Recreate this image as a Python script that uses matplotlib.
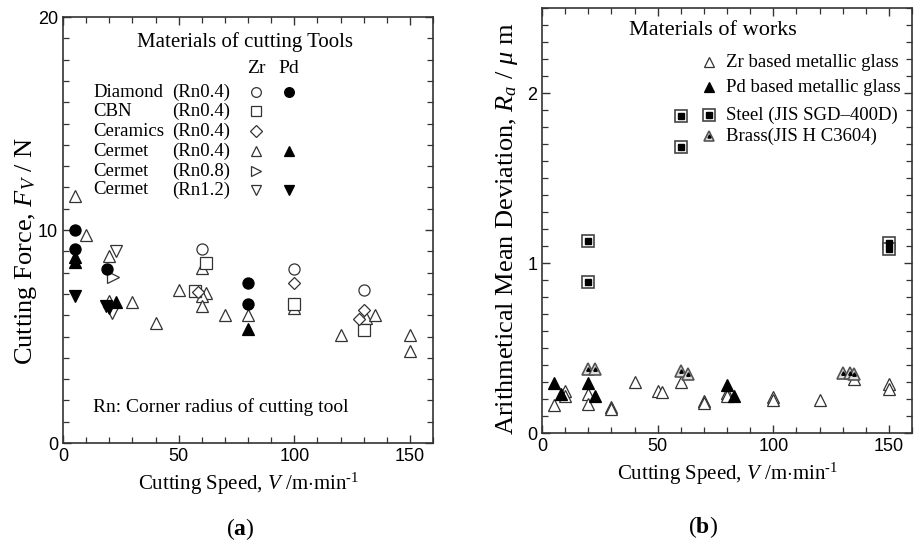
import matplotlib
matplotlib.use("Agg")
import matplotlib.pyplot as plt
from matplotlib.ticker import MultipleLocator

plt.rcParams['font.family'] = ['Liberation Serif', 'DejaVu Serif']
plt.rcParams['mathtext.fontset'] = 'custom'
plt.rcParams['mathtext.rm'] = 'Liberation Serif'
plt.rcParams['mathtext.it'] = 'Liberation Serif:italic'
plt.rcParams['mathtext.bf'] = 'Liberation Serif:bold'

# ---- (a) cutting force, Zr = open marker, Pd = filled marker
diamond_zr_v = [60, 100, 130]
diamond_zr_f = [9.1, 8.15, 7.2]
diamond_pd_v = [5, 5, 19, 80, 80]
diamond_pd_f = [10.0, 9.1, 8.15, 7.5, 6.55]
cbn_zr_v = [57, 62, 100, 130]
cbn_zr_f = [7.15, 8.45, 6.55, 5.3]
ceramics_zr_v = [58.5, 100, 130, 128]
ceramics_zr_f = [7.1, 7.5, 6.25, 5.8]
cermet04_zr_v = [5, 10, 20, 20, 30, 40, 50, 60, 62, 60, 60, 70, 80, 100, 120, 131, 135, 150, 150]
cermet04_zr_f = [11.6, 9.75, 8.8, 6.65, 6.6, 5.65, 7.2, 8.2, 7.05, 6.9, 6.45, 6.0, 6.0, 6.35, 5.05, 5.85, 6.0, 5.05, 4.3]
cermet04_pd_v = [5, 5, 23, 80]
cermet04_pd_f = [8.75, 8.5, 6.6, 5.35]
cermet08_zr_v = [21.5]
cermet08_zr_f = [7.8]
cermet12_zr_v = [23, 21]
cermet12_zr_f = [9.0, 6.1]
cermet12_pd_v = [5, 18.5, 20]
cermet12_pd_f = [6.9, 6.45, 6.35]

tool_names = ["Diamond", "CBN", "Ceramics", "Cermet", "Cermet", "Cermet"]
tool_radius = ["(Rn0.4)", "(Rn0.4)", "(Rn0.4)", "(Rn0.4)", "(Rn0.8)", "(Rn1.2)"]

# ---- (b) surface roughness
zr_v = [5, 10, 10, 20, 20, 30, 30, 40, 50, 52, 60, 70, 70, 80, 80, 100, 100, 120, 135, 150, 150]
zr_ra = [0.165, 0.245, 0.215, 0.232, 0.168, 0.155, 0.14, 0.30, 0.248, 0.24, 0.30, 0.19, 0.175,
         0.235, 0.22, 0.21, 0.195, 0.195, 0.32, 0.29, 0.26]
pd_v = [5, 8, 20, 23, 80, 83]
pd_ra = [0.295, 0.232, 0.295, 0.218, 0.28, 0.218]
steel_v = [20, 20, 60, 60, 150, 150]
steel_ra = [1.13, 0.89, 1.865, 1.685, 1.12, 1.08]
brass_v = [20, 23, 60, 63, 130, 133, 135]
brass_ra = [0.375, 0.375, 0.365, 0.345, 0.355, 0.355, 0.35]

work_labels = ["Zr based metallic glass", "Pd based metallic glass",
               "Steel (JIS SGD\u2013400D)", "Brass(JIS H C3604)"]

fig = plt.figure(figsize=(9.14, 5.5), dpi=100)
ax1 = fig.add_axes([0.069, 0.1945, 0.4048, 0.7745])
ax2 = fig.add_axes([0.593, 0.2127, 0.405, 0.7727])

ms = 8
op = dict(ls='none', mfc='white', mec='#333333', mew=0.9, ms=ms)
fp = dict(ls='none', mfc='black', mec='black', mew=0.9, ms=ms)


def style_axes(ax):
    for s in ax.spines.values():
        s.set_linewidth(1.2)
        s.set_color('#333333')
    ax.tick_params(which='both', direction='in', top=True, right=True, color='#333333')
    ax.tick_params(which='major', length=6, width=1.0, labelsize=13)
    ax.tick_params(which='minor', length=4, width=0.9)
    for lab in ax.get_xticklabels() + ax.get_yticklabels():
        lab.set_family('Liberation Sans')


# panel (a)
ax1.plot(cermet04_zr_v, cermet04_zr_f, marker='^', **op)
ax1.plot(diamond_zr_v, diamond_zr_f, marker='o', **op)
ax1.plot(cbn_zr_v, cbn_zr_f, marker='s', **op)
ax1.plot(ceramics_zr_v, ceramics_zr_f, marker='D', **dict(op, ms=6.5))
ax1.plot(cermet08_zr_v, cermet08_zr_f, marker='>', **op)
ax1.plot(cermet12_zr_v, cermet12_zr_f, marker='v', **op)
ax1.plot(diamond_pd_v, diamond_pd_f, marker='o', **fp)
ax1.plot(cermet04_pd_v, cermet04_pd_f, marker='^', **fp)
ax1.plot(cermet12_pd_v, cermet12_pd_f, marker='v', **fp)

ax1.set_xlim(0, 160)
ax1.set_ylim(0, 20)
ax1.xaxis.set_major_locator(MultipleLocator(50))
ax1.xaxis.set_minor_locator(MultipleLocator(10))
ax1.yaxis.set_major_locator(MultipleLocator(10))
ax1.yaxis.set_minor_locator(MultipleLocator(1))
style_axes(ax1)
ax1.set_xlabel(r"Cutting Speed, $V$ /m$\cdot$min$^{\text{-}1}$", fontsize=15, labelpad=4)
ax1.set_ylabel(r"Cutting Force, $F_V$ / N", fontsize=19)
ax1.yaxis.set_label_coords(-0.065, 0.45)

ax1.text(0.492, 0.941, "Materials of cutting Tools", transform=ax1.transAxes,
         ha='center', va='center', fontsize=15)
ax1.text(0.522, 0.880, "Zr", transform=ax1.transAxes, ha='center', va='center', fontsize=14)
ax1.text(0.611, 0.880, "Pd", transform=ax1.transAxes, ha='center', va='center', fontsize=14)
row_y = [0.824, 0.779, 0.732, 0.685, 0.638, 0.594]
zr_marks = ['o', 's', 'D', '^', '>', 'v']
pd_marks = ['o', None, None, '^', None, 'v']
for i in range(6):
    ax1.text(0.081, row_y[i], tool_names[i], transform=ax1.transAxes, ha='left', va='center', fontsize=13.5)
    ax1.text(0.295, row_y[i], tool_radius[i], transform=ax1.transAxes, ha='left', va='center', fontsize=13.5)
    ax1.plot([0.522], [row_y[i]], marker=zr_marks[i], transform=ax1.transAxes, clip_on=False,
             **dict(op, ms=6.5 if zr_marks[i] == 'D' else 7))
    if pd_marks[i]:
        ax1.plot([0.611], [row_y[i]], marker=pd_marks[i], transform=ax1.transAxes, clip_on=False,
                 **dict(fp, ms=7))
ax1.text(0.081, 0.085, "Rn: Corner radius of cutting tool", transform=ax1.transAxes,
         ha='left', va='center', fontsize=14)

# panel (b)
ax2.plot(zr_v, zr_ra, marker='^', **op)
ax2.plot(pd_v, pd_ra, marker='^', **fp)
ax2.plot(brass_v, brass_ra, marker='^', ls='none', mfc='#dddddd', mec='#555555', mew=1.2, ms=ms)
ax2.plot(brass_v, brass_ra, marker='^', ls='none', mfc='black', mec='black', ms=2.5)
ax2.plot(steel_v, steel_ra, marker='s', ls='none', mfc='white', mec='#444444', mew=1.2, ms=8.5)
ax2.plot(steel_v, steel_ra, marker='s', ls='none', mfc='black', mec='black', ms=4.5)

ax2.set_xlim(0, 160)
ax2.set_ylim(0, 2.5)
ax2.xaxis.set_major_locator(MultipleLocator(50))
ax2.xaxis.set_minor_locator(MultipleLocator(10))
ax2.yaxis.set_major_locator(MultipleLocator(1))
ax2.yaxis.set_minor_locator(MultipleLocator(0.1))
style_axes(ax2)
ax2.set_xlabel(r"Cutting Speed, $V$ /m$\cdot$min$^{\text{-}1}$", fontsize=15, labelpad=4)
ax2.set_ylabel(r"Arithmetical Mean Deviation, $R_a$ / $\mu$ m", fontsize=19)
ax2.yaxis.set_label_coords(-0.06, 0.48)

ax2.text(0.461, 0.948, "Materials of works", transform=ax2.transAxes,
         ha='center', va='center', fontsize=16)
leg_y = [0.873, 0.814, 0.748, 0.699]
for i in range(4):
    ax2.text(0.496, leg_y[i], work_labels[i], transform=ax2.transAxes, ha='left', va='center', fontsize=13.5)
ax2.plot([0.45], [leg_y[0]], marker='^', transform=ax2.transAxes, clip_on=False, **dict(op, ms=7))
ax2.plot([0.45], [leg_y[1]], marker='^', transform=ax2.transAxes, clip_on=False, **dict(fp, ms=7))
ax2.plot([0.45], [leg_y[2]], marker='s', transform=ax2.transAxes, clip_on=False, ls='none',
         mfc='white', mec='#444444', mew=1.2, ms=8)
ax2.plot([0.45], [leg_y[2]], marker='s', transform=ax2.transAxes, clip_on=False, ls='none',
         mfc='black', mec='black', ms=4)
ax2.plot([0.45], [leg_y[3]], marker='^', transform=ax2.transAxes, clip_on=False, ls='none',
         mfc='#dddddd', mec='#555555', mew=1.2, ms=7)
ax2.plot([0.45], [leg_y[3]], marker='^', transform=ax2.transAxes, clip_on=False, ls='none',
         mfc='black', mec='black', ms=2.2)

fig.text(0.263, 0.038, r"($\mathbf{a}$)", ha='center', va='center', fontsize=17)
fig.text(0.769, 0.042, r"($\mathbf{b}$)", ha='center', va='center', fontsize=17)

fig.savefig("out.png", dpi=100)
